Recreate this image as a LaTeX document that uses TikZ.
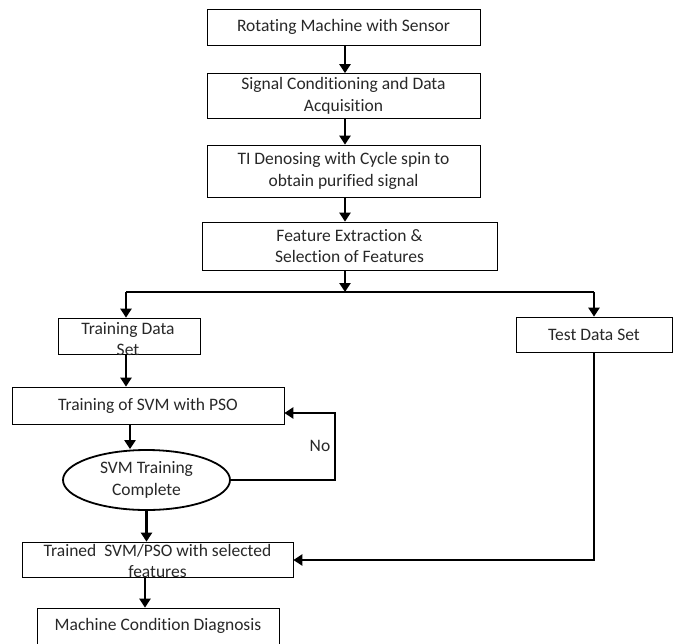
\documentclass[tikz,border=0pt]{standalone}
\usepackage{fontspec}
\setmainfont{Carlito}[Ligatures=NoCommon]
\usetikzlibrary{arrows.meta,shapes.geometric}
\definecolor{txtc}{RGB}{40,40,40}
\tikzset{
  box/.style={draw, line width=0.7pt, inner sep=0pt, align=center},
  txt/.style={inner sep=0pt, align=center, text=txtc, font=\fontsize{17.5}{21.5}\selectfont},
  arr/.style={line width=2.6pt, -{Triangle[length=9pt,width=11pt]}},
  ln/.style={line width=2.6pt}
}
\begin{document}
\begin{tikzpicture}[x=1pt,y=-1pt]
\useasboundingbox[fill=white] (0,0) rectangle (679,643);
% boxes
\node[box, minimum width=273pt, minimum height=36pt] (b1) at (343.5,27) {};
\node[txt] (t1) at (b1) {Rotating Machine with Sensor};
\node[box, minimum width=273pt, minimum height=45pt] (b2) at (343.5,96) {};
\node[txt] (t2) at (b2) {Signal Conditioning and Data\\Acquisition};
\node[box, minimum width=273pt, minimum height=52pt] (b3) at (343.5,171) {};
\node[txt] (t3) at (b3) {TI Denosing with Cycle spin to\\obtain purified signal};
\node[box, minimum width=295pt, minimum height=48pt] (b4) at (349.5,246) {};
\node[txt] (t4) at (b4) {Feature Extraction \&\\Selection of Features};
\node[box, minimum width=142pt, minimum height=36pt] (td) at (129,336) {};
\node[txt] (ttd) at (128,339) {Training Data\\Set};
\node[box, minimum width=156pt, minimum height=35pt] (ts) at (594,334.5) {};
\node[txt] (tts) at (ts) {Test Data Set};
\node[box, minimum width=272pt, minimum height=37pt] (tsvm) at (148,405.5) {};
\node[txt] (ttsvm) at (tsvm) {Training of SVM with PSO};
\node[draw, ellipse, line width=1.8pt, minimum width=167pt, minimum height=60pt, inner sep=0pt] (ell) at (146.5,480) {};
\node[txt] (tell) at (ell) {SVM Training\\Complete};
\node[box, minimum width=271pt, minimum height=35pt] (tr) at (157.5,559.5) {};
\node[txt] (ttr) at (157.5,561) {Trained\ \ SVM/PSO with selected\\features};
\node[box, minimum width=242pt, minimum height=36pt] (mcd) at (158,626) {};
\node[txt] (tmcd) at (mcd) {Machine Condition Diagnosis};
% coordinates
\coordinate (split) at (345,292);
\coordinate (sl) at (126,292);
\coordinate (sr) at (594,292);
\coordinate (loop) at (335,413);
\coordinate (tsb) at (594,560);
% connectors
\draw[arr] (b1.south -| split) -- (b2.north -| split);
\draw[arr] (b2.south -| split) -- (b3.north -| split);
\draw[arr] (b3.south -| split) -- (b4.north -| split);
\draw[arr] (b4.south -| split) -- (split);
\draw[ln] (sl) -- (sr);
\draw[arr] (sl) -- (td.north -| sl);
\draw[arr] (sr) -- (ts.north);
\draw[arr] (td.south -| sl) -- (tsvm.north -| sl);
\draw[arr] (tsvm.south -| 130,0) -- (ell.north -| 130,0);
\draw[arr] (ell.east) -| (loop) -- (tsvm.east |- loop);
\node[txt, anchor=center] (no) at (320,446) {No};
\draw[arr] (ts.south) -- (tsb) -- (tr.east |- tsb);
\draw[arr] (ell.south) -- (tr.north -| ell.south);
\draw[arr] (tr.south -| 145,0) -- (mcd.north -| 145,0);
\end{tikzpicture}
\end{document}
